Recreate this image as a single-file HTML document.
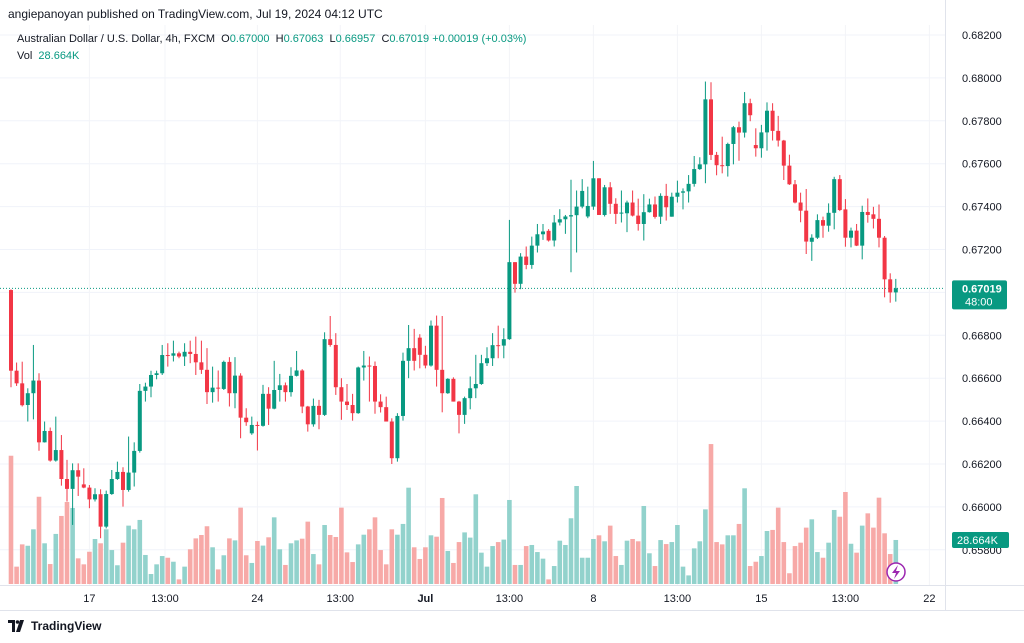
<!DOCTYPE html>
<html><head><meta charset="utf-8"><style>
html,body{margin:0;padding:0;background:#fff;width:1024px;height:643px;overflow:hidden;font-family:"Liberation Sans",sans-serif;}
#wrap{position:relative;width:1024px;height:643px;}
.hdr{position:absolute;left:8px;top:7px;font-size:12px;color:#131722;}
.leg{position:absolute;left:17px;top:33px;font-size:11px;color:#131722;white-space:nowrap;}
.leg .g{color:#089981}
.vol{position:absolute;left:17px;top:50px;font-size:11px;color:#131722;}
.vol .g{color:#089981}
.foot{position:absolute;left:8px;top:619px;font-size:12px;color:#131722;font-weight:bold;display:flex;align-items:center;gap:5px}
</style></head><body><div id="wrap">
<svg id="chart" width="1024" height="643" style="position:absolute;left:0;top:0"></svg>
<div class="hdr">angiepanoyan published on TradingView.com, Jul 19, 2024 04:12 UTC</div>
<div class="leg">Australian Dollar / U.S. Dollar, 4h, FXCM&nbsp; O<span class="g">0.67000</span> &nbsp;H<span class="g">0.67063</span> &nbsp;L<span class="g">0.66957</span> &nbsp;C<span class="g">0.67019</span> <span class="g">+0.00019 (+0.03%)</span></div>
<div class="vol">Vol &nbsp;<span class="g">28.664K</span></div>
<div class="foot"><svg width="18" height="12" viewBox="0 0 18 12"><path d="M0 0h7v12H4V3H0z M8 12L12 0h4l-4 12z" fill="#131722"/><circle cx="9.5" cy="2" r="1.8" fill="#131722"/></svg><span>TradingView</span></div>
</div>
<script>
const opens=[67011,66635,66576,66475,66530,66589,66301,66354,66216,66265,66130,66084,66171,66105,66090,66035,66059,65908,66060,66130,66163,66079,66160,66261,66541,66561,66615,66623,66708,66705,66716,66701,66723,66713,66674,66639,66535,66556,66550,66676,66530,66612,66416,66343,66382,66378,66527,66458,66545,66567,66535,66611,66636,66468,66385,66471,66429,66782,66755,66558,66491,66475,66437,66650,66659,66657,66491,66465,66398,66227,66424,66681,66740,66789,66709,66659,66845,66639,66530,66597,66491,66429,66507,66553,66573,66670,66693,66754,66752,66782,67141,67040,67167,67128,67218,67271,67287,67242,67326,67341,67354,67360,67400,67354,67400,67532,67361,67490,67413,67369,67369,67419,67358,67319,67374,67410,67353,67450,67353,67446,67465,67471,67506,67575,67597,67900,67641,67593,67589,67692,67770,67745,67882,67687,67672,67746,67847,67753,67708,67591,67504,67419,67381,67236,67255,67337,67311,67371,67528,67387,67255,67288,67218,67375,67364,67343,67255,67061,67000];
const highs=[67014,66673,66677,66553,66755,66623,66398,66370,66421,66335,66219,66203,66203,66180,66102,66087,66082,66076,66172,66211,66185,66328,66301,66573,66579,66635,66635,66755,66763,66775,66724,66763,66775,66794,66775,66740,66654,66636,66682,66698,66698,66623,66460,66421,66398,66569,66558,66681,66620,66580,66651,66727,66642,66471,66505,66499,66814,66890,66810,66600,66573,66527,66654,66727,66701,66678,66525,66514,66413,66437,66719,66848,66830,66805,66751,66869,66892,66890,66600,66604,66494,66514,66608,66709,66709,66744,66810,66845,66833,67338,67141,67183,67214,67260,67319,67319,67295,67361,67388,67361,67525,67475,67528,67493,67613,67532,67501,67514,67439,67475,67428,67475,67437,67458,67437,67447,67462,67506,67465,67521,67485,67547,67636,67630,67983,67980,67655,67726,67698,67776,67796,67934,67903,67765,67781,67886,67882,67823,67711,67642,67524,67465,67482,67271,67364,67353,67415,67539,67547,67435,67302,67319,67404,67438,67399,67410,67263,67089,67063];
const lows=[66558,66564,66468,66398,66408,66262,66300,66211,66211,66099,66025,65916,66051,66087,65994,66025,65854,65900,66056,66126,66001,66071,66095,66253,66491,66511,66595,66615,66654,66678,66693,66657,66670,66615,66620,66480,66486,66491,66545,66468,66460,66320,66378,66336,66263,66374,66382,66455,66491,66491,66514,66608,66437,66351,66374,66362,66424,66747,66522,66406,66452,66402,66434,66589,66491,66434,66440,66398,66200,66211,66402,66600,66636,66646,66646,66654,66561,66441,66527,66491,66343,66387,66455,66507,66569,66657,66657,66693,66693,66779,66999,67015,67108,67110,67186,67245,67237,67214,67312,67273,67094,67186,67392,67346,67385,67361,67354,67366,67319,67326,67281,67354,67288,67242,67372,67344,67319,67335,67353,67419,67387,67419,67493,67571,67509,67617,67546,67555,67540,67597,67614,67722,67798,67633,67628,67661,67708,67680,67524,67501,67415,67327,67179,67147,67249,67255,67283,67294,67379,67213,67210,67216,67154,67325,67298,67210,66977,66952,66957];
const closes=[66635,66576,66474,66530,66589,66301,66354,66216,66265,66130,66084,66171,66141,66090,66035,66059,65908,66060,66130,66163,66079,66160,66261,66541,66561,66615,66623,66708,66705,66716,66701,66723,66713,66674,66639,66535,66556,66553,66676,66530,66612,66416,66395,66382,66378,66527,66458,66545,66567,66535,66611,66636,66468,66385,66471,66429,66782,66755,66558,66491,66475,66437,66650,66659,66657,66491,66465,66398,66227,66424,66681,66740,66681,66709,66659,66845,66639,66530,66597,66491,66429,66507,66553,66573,66670,66693,66754,66752,66782,67141,67040,67167,67128,67218,67271,67284,67242,67326,67341,67354,67360,67400,67473,67403,67532,67361,67490,67413,67366,67372,67419,67358,67319,67374,67410,67352,67450,67397,67446,67465,67471,67506,67575,67597,67900,67641,67593,67589,67692,67770,67745,67882,67826,67672,67746,67847,67753,67708,67591,67504,67419,67381,67237,67255,67337,67311,67371,67528,67384,67255,67288,67218,67375,67361,67343,67255,67061,67000,67019];
const volumes=[83.5,11.3,25.8,24.9,35.6,56.8,26.5,13.0,32.6,44.3,53.4,49.5,16.7,12.8,21.0,29.3,26.5,35.6,22.1,12.2,26.9,38.0,35.6,41.7,18.9,6.5,12.8,18.2,17.1,14.5,3.0,11.3,22.6,29.7,31.9,37.6,23.9,9.5,18.7,29.7,28.4,49.7,18.7,13.7,28.0,25.0,30.4,43.4,22.6,12.4,26.5,28.4,29.5,40.6,19.5,12.8,38.4,31.9,30.6,49.7,20.6,14.3,25.8,32.1,35.6,43.4,22.1,12.8,35.6,32.1,39.1,62.7,23.9,16.3,23.9,31.7,30.8,56.0,21.5,13.7,27.3,33.6,30.2,58.4,20.4,11.3,24.7,27.3,28.9,54.7,12.4,12.4,24.7,25.4,20.8,16.5,3.0,11.7,28.2,25.4,42.8,63.8,17.1,17.1,29.3,31.7,27.8,38.0,18.2,12.4,28.2,29.3,27.8,50.8,20.0,11.7,28.6,26.0,27.3,38.4,11.3,5.6,23.2,27.8,48.6,91.1,27.3,25.8,31.7,31.7,39.1,62.3,11.7,14.5,18.2,34.5,35.2,49.7,27.3,7.0,24.7,26.9,36.7,42.1,20.8,17.1,26.9,48.2,43.8,59.9,26.2,20.4,38.0,46.0,36.7,56.2,33.0,19.5,28.664];
const priceTicks=[0.682,0.680,0.678,0.676,0.674,0.672,0.670,0.668,0.666,0.664,0.662,0.660,0.658];
const timeLabels=["17","13:00","24","13:00","Jul","13:00","8","13:00","15","13:00","22"];
const timeLabelIdx=[14,27.5,44,58.8,74,89,104,119,134,149,164];
const PRICE_SCALE=100000;
const lastPrice=0.67019, lastVol=28.664;

const NS="http://www.w3.org/2000/svg";
const svg=document.getElementById('chart');
const PLOT_R=945, PLOT_B=585;
function y(p){return 35+(0.682-p)/0.002*42.9;}
function yp(v){return y(v/PRICE_SCALE);}
function x(i){return 11+i*5.6;}
function yv(v){return 584-v/0.651;}
function mk(tag,attrs,parent){const e=document.createElementNS(NS,tag);for(const k in attrs)e.setAttribute(k,attrs[k]);(parent||svg).appendChild(e);return e;}
priceTicks.forEach(p=>{const l=mk('line',{x1:0,x2:PLOT_R,y1:y(p),y2:y(p),stroke:'#f0f3fa','stroke-width':1});

});
timeLabelIdx.forEach(i=>{const l=mk('line',{x1:x(i),x2:x(i),y1:25,y2:PLOT_B,stroke:'#f3f4f8','stroke-width':1});

});
volumes.forEach((v,i)=>{const up=closes[i]>=opens[i];
const r=mk('rect',{x:x(i)-2.3,y:yv(v),width:4.6,height:584-yv(v),fill:up?'#92d2cc':'#f7a9a7'});

});
const lp=mk('line',{x1:0,x2:PLOT_R,y1:y(lastPrice),y2:y(lastPrice),stroke:'#089981','stroke-width':1,'stroke-dasharray':'1,2'});


opens.forEach((o,i)=>{const c=closes[i],up=c>=o,col=up?'#089981':'#f23645';
const g=mk('g',{});


mk('line',{x1:x(i),x2:x(i),y1:yp(highs[i]),y2:yp(lows[i]),stroke:col,'stroke-width':1},g);
const t=Math.min(yp(o),yp(c)),h=Math.max(1,Math.abs(yp(o)-yp(c)));
mk('rect',{x:x(i)-2,y:t,width:4,height:h,fill:col},g);});
const b1=mk('line',{x1:0,x2:1024,y1:PLOT_B+0.5,y2:PLOT_B+0.5,stroke:'#e0e3eb'});


const b2=mk('line',{x1:PLOT_R+0.5,x2:PLOT_R+0.5,y1:0,y2:610,stroke:'#e0e3eb'});


const b3=mk('line',{x1:0,x2:1024,y1:610.5,y2:610.5,stroke:'#e0e3eb'});


priceTicks.forEach(p=>{const t=mk('text',{x:962,y:y(p)+4,'font-size':11,fill:'#131722','font-family':'Liberation Sans, sans-serif'});t.textContent=p.toFixed(5);

});
timeLabels.forEach((s,i)=>{const t=mk('text',{x:x(timeLabelIdx[i]),y:602,'font-size':11,fill:'#131722','text-anchor':'middle','font-weight':s==='Jul'?'bold':'normal','font-family':'Liberation Sans, sans-serif'});t.textContent=s;

});
const bg=mk('g',{});


mk('rect',{x:952,y:y(lastPrice)-8,width:55,height:29,rx:2,fill:'#089981'},bg);
const t1=mk('text',{x:962,y:y(lastPrice)+4,'font-size':11,fill:'#fff','font-weight':'bold','font-family':'Liberation Sans, sans-serif'},bg);t1.textContent=lastPrice.toFixed(5);
const t2=mk('text',{x:965,y:y(lastPrice)+17,'font-size':11,fill:'#fff','font-family':'Liberation Sans, sans-serif'},bg);t2.textContent='48:00';
const vb=mk('g',{});


mk('rect',{x:952,y:yv(lastVol)-8,width:57,height:16,rx:2,fill:'#089981'},vb);
const t3=mk('text',{x:957,y:yv(lastVol)+4,'font-size':11,fill:'#fff','font-family':'Liberation Sans, sans-serif'},vb);t3.textContent=lastVol.toFixed(3)+'K';
const li=mk('g',{});


mk('circle',{cx:896,cy:572,r:9,fill:'#fff',stroke:'#9c27b0','stroke-width':1.5},li);
mk('path',{d:'M898 565 L892 573 L896 573 L894 579 L900 571 L896 571 Z',fill:'#9c27b0'},li);
</script></body></html>
